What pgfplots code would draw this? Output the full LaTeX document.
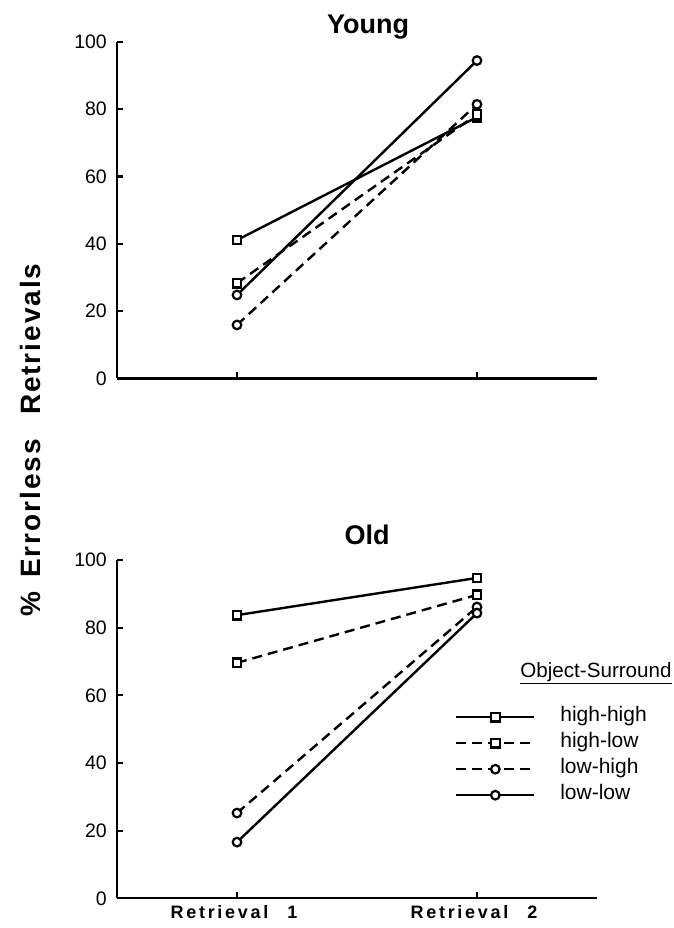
\documentclass[border=0pt]{standalone}
\usepackage{fontspec}
\setmainfont{Liberation Sans}
\newfontfamily\xlab{Liberation Sans}[LetterSpace=15]
\newfontfamily\ylab{Liberation Sans}[LetterSpace=7]
\usepackage{pgfplots}
\pgfplotsset{compat=1.18}

\pgfplotsset{
  myaxis/.style={
    scale only axis, width=480pt,
    xmin=0.5, xmax=2.5, ymin=0, ymax=100,
    axis x line*=bottom, axis y line*=left,
    xtick={1,2}, ytick={0,20,40,60,80,100},
    tick align=inside, major tick length=6pt,
    axis line style={line width=2.2pt, black},
    tick style={line width=2.2pt, black},
    yticklabel style={font=\fontsize{19.5}{20}\selectfont, inner sep=0pt, xshift=-10pt},
    xticklabel style={font=\xlab\bfseries\fontsize{18}{18}\selectfont, inner sep=0pt, yshift=-7pt, xshift=-3pt},
    /pgf/number format/assume math mode=true,
    clip=false,
    legend image code/.code={
      \draw[##1, mark repeat=2, mark phase=2] plot coordinates {(0pt,0pt) (39pt,0pt) (78pt,0pt)};
      \path[draw=none] (0pt,0pt) -- (104pt,0pt);
    },
  },
  ln/.style={line width=2.4pt, black, mark size=4.3pt,
      mark options={solid, fill=white, line width=2.2pt}},
  dsh/.style={ln, dash pattern=on 10pt off 6pt},
}

\begin{document}
\begin{tikzpicture}
\useasboundingbox (0,0) rectangle (673pt,928pt);

\begin{axis}[myaxis, at={(117pt,549.5pt)}, anchor=south west, height=336.8pt,
  xticklabels={}]
\addplot[ln, mark=square*] coordinates {(1,41.1) (2,77.6)};
\addplot[dsh, mark=square*] coordinates {(1,28.3) (2,78.4)};
\addplot[dsh, mark=*] coordinates {(1,15.9) (2,81.4)};
\addplot[ln, mark=*] coordinates {(1,24.8) (2,94.4)};
\end{axis}

\begin{axis}[myaxis, at={(117pt,29.7pt)}, anchor=south west, height=338.3pt,
  xticklabels={Retrieval\hspace{19pt}1, Retrieval\hspace{19pt}2},
  legend style={at={(rel axis cs:0.704,0.564)}, anchor=north west, draw=none, fill=none,
    inner sep=0pt, row sep=7pt, column sep=0pt,
    nodes={inner sep=0pt, text height=14pt, text depth=5pt, font=\fontsize{21}{21}\selectfont},
    cells={anchor=west}}]
\addplot[ln, mark=square*] coordinates {(1,83.7) (2,94.7)};
\addlegendentry{high-high}
\addplot[dsh, mark=square*] coordinates {(1,69.6) (2,89.7)};
\addlegendentry{high-low}
\addplot[dsh, mark=*] coordinates {(1,25.2) (2,86.1)};
\addlegendentry{low-high}
\addplot[ln, mark=*] coordinates {(1,16.6) (2,84.3)};
\addlegendentry{low-low}
\end{axis}

\node[anchor=base, font=\bfseries\fontsize{27}{27}\selectfont] at (368pt,894.7pt) {Young};
\node[anchor=base, font=\bfseries\fontsize{27}{27}\selectfont] at (367pt,383pt) {Old};
\node[font=\fontsize{20.6}{21}\selectfont] at (596pt,255pt) {\underline{Object-Surround}};
\node[rotate=90, font=\ylab\bfseries\fontsize{28}{28}\selectfont] at (30pt,488pt)
  {\%\hspace{14pt}Errorless\hspace{24pt}Retrievals};
\end{tikzpicture}
\end{document}
